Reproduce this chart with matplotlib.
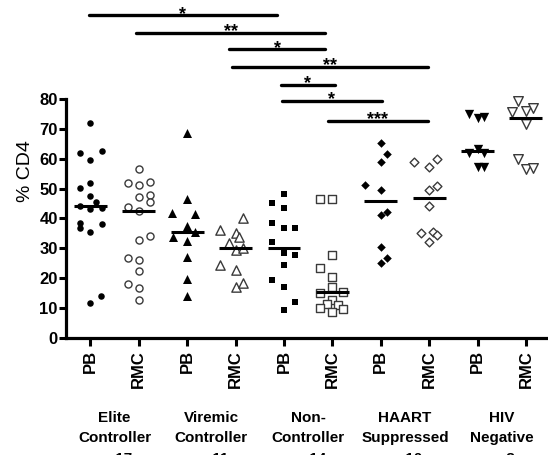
import matplotlib
matplotlib.use("Agg")
import matplotlib.pyplot as plt
from matplotlib.transforms import blended_transform_factory
import numpy as np

plt.rcParams['font.family'] = ['Liberation Sans', 'DejaVu Sans']
plt.rcParams['font.weight'] = 'bold'

# % CD4 per subject; *_dx = horizontal scatter of the column
elite_pb = [71.8, 61.8, 62.6, 59.5, 51.9, 50.1, 47.5, 45.6, 44.0, 43.0, 43.4,
            38.4, 36.7, 38.1, 35.3, 11.8, 14.0]
elite_pb_dx = [0, -0.22, 0.24, 0, 0, -0.22, 0, 0.12, -0.22, 0, 0.23,
               -0.22, -0.22, 0.23, 0, 0, 0.21]
elite_rmc = [56.4, 51.7, 51.2, 52.3, 47.3, 47.8, 45.6, 43.7, 42.6, 32.8, 34.1,
             26.9, 26.1, 22.5, 18.0, 16.6, 12.7]
elite_rmc_dx = [0, -0.23, 0, 0.23, 0, 0.23, 0.23, -0.23, 0, 0, 0.23,
                -0.23, 0, 0, -0.23, 0, 0]
viremic_pb = [68.5, 46.5, 41.7, 41.5, 37.6, 33.7, 35.3, 32.3, 27.0, 19.7, 14.0]
viremic_pb_dx = [0, 0, -0.31, 0.16, 0, -0.3, 0.16, 0, 0, 0, 0]
viremic_rmc = [40.0, 36.1, 35.0, 33.9, 31.7, 29.4, 30.2, 24.4, 22.7, 17.2, 18.3]
viremic_rmc_dx = [0.15, -0.32, 0, 0.06, -0.14, 0, 0.15, -0.32, 0, 0, 0.15]
nonctrl_pb = [48.1, 45.0, 43.4, 38.4, 36.7, 36.7, 32.0, 28.5, 27.8, 24.4,
              19.4, 17.0, 11.9, 9.4]
nonctrl_pb_dx = [0, -0.24, 0, -0.24, 0, 0.23, -0.24, 0, 0.23, 0,
                 -0.24, 0, 0.23, 0]
nonctrl_rmc = [46.5, 46.5, 27.8, 23.3, 20.5, 17.0, 15.2, 15.5, 12.7, 11.4,
               11.0, 9.9, 9.6, 8.6]
nonctrl_rmc_dx = [-0.25, 0, 0, -0.25, 0, 0, -0.25, 0.21, 0, -0.12,
                  0.12, -0.25, 0.21, 0]
haart_pb = [65.3, 61.5, 59.0, 51.2, 49.5, 42.2, 41.1, 30.5, 26.7, 25.0]
haart_pb_dx = [0, 0.13, 0, -0.33, 0, 0.13, 0, 0, 0.13, 0]
haart_rmc = [59.0, 57.3, 59.9, 49.5, 50.9, 44.1, 35.2, 35.6, 34.4, 32.2]
haart_rmc_dx = [-0.31, 0, 0.16, 0, 0.16, 0, -0.17, 0.07, 0.16, 0]
hivneg_pb = [74.9, 73.5, 74.0, 63.2, 61.8, 61.8, 57.3, 57.3]
hivneg_pb_dx = [-0.17, 0, 0.14, 0, -0.17, 0.14, 0, 0.14]
hivneg_rmc = [79.2, 75.7, 76.0, 76.8, 71.5, 59.8, 56.4, 56.8]
hivneg_rmc_dx = [-0.16, -0.28, 0, 0.15, 0, -0.16, 0, 0.15]

tick_labels = ['PB', 'RMC'] * 5
group_line1 = ['Elite', 'Viremic', 'Non-', 'HAART', 'HIV']
group_line2 = ['Controller', 'Controller', 'Controller', 'Suppressed', 'Negative']
group_counts = ['n=17', 'n=11', 'n=14', 'n=10', 'n=8']

# (from, to, height, stars)
comparisons = [
    (0.96, 4.86, 108.0, '*'),
    (1.95, 5.85, 102.0, '**'),
    (3.87, 5.85, 96.6, '*'),
    (3.93, 7.98, 90.7, '**'),
    (4.93, 6.05, 84.8, '*'),
    (4.96, 7.02, 79.4, '*'),
    (5.90, 7.98, 72.6, '***'),
]

series = [
    (elite_pb, elite_pb_dx, 'o', True, 22),
    (elite_rmc, elite_rmc_dx, 'o', False, 26),
    (viremic_pb, viremic_pb_dx, '^', True, 42),
    (viremic_rmc, viremic_rmc_dx, '^', False, 45),
    (nonctrl_pb, nonctrl_pb_dx, 's', True, 23),
    (nonctrl_rmc, nonctrl_rmc_dx, 's', False, 26),
    (haart_pb, haart_pb_dx, 'D', True, 19),
    (haart_rmc, haart_rmc_dx, 'D', False, 20),
    (hivneg_pb, hivneg_pb_dx, 'v', True, 45),
    (hivneg_rmc, hivneg_rmc_dx, 'v', False, 48),
]

fig = plt.figure(figsize=(5.48, 4.55), dpi=100)
ax = fig.add_axes([66 / 548, 117 / 455, 482 / 548, 333 / 455])

for i, (vals, dx, mk, filled, size) in enumerate(series):
    pos = i + 1
    xs = pos + np.array(dx)
    if filled:
        ax.scatter(xs, vals, marker=mk, s=size, c='black', linewidths=0, zorder=3)
    else:
        ax.scatter(xs, vals, marker=mk, s=size, facecolors='white',
                   edgecolors='#3a3a3a', linewidths=1.0, zorder=3)
    med = np.median(vals)
    ax.plot([pos - 0.34, pos + 0.34], [med, med], color='black', lw=2.2,
            solid_capstyle='butt', zorder=4)

for x0, x1, y, stars in comparisons:
    ax.plot([x0, x1], [y, y], color='black', lw=2.4, solid_capstyle='round',
            clip_on=False)
    ax.annotate(stars, xy=((x0 + x1) / 2, y), xytext=(0, -2.5),
                textcoords='offset points', ha='center', va='baseline',
                fontsize=13, annotation_clip=False)

ax.set_xlim(0.494, 10.457)
ax.set_ylim(0, 111.4)
ax.spines['top'].set_visible(False)
ax.spines['right'].set_visible(False)
ax.spines['left'].set_bounds(0, 80)
ax.spines['left'].set_linewidth(2.3)
ax.spines['bottom'].set_linewidth(2.3)

ax.set_yticks(np.arange(0, 81, 10))
ax.set_xticks(np.arange(1, 11))
ax.set_xticklabels(tick_labels, rotation=90, fontsize=12)
ax.tick_params(axis='y', labelsize=12, length=5, width=2.2, pad=1)
ax.tick_params(axis='x', length=5.5, width=2.2, pad=3)
ax.set_ylabel('% CD4', fontsize=14, labelpad=4)

trans = blended_transform_factory(ax.transData, fig.transFigure)
for g in range(5):
    xc = 2 * g + 1.5
    ax.text(xc, (455 - 418) / 455, group_line1[g], transform=trans,
            ha='center', va='center', fontsize=11, clip_on=False)
    ax.text(xc, (455 - 438) / 455, group_line2[g], transform=trans,
            ha='center', va='center', fontsize=11, clip_on=False)
    ax.text(xc, (455 - 459) / 455, group_counts[g], transform=trans,
            ha='center', va='center', fontsize=11, clip_on=False)

fig.savefig('out.png', dpi=100)
